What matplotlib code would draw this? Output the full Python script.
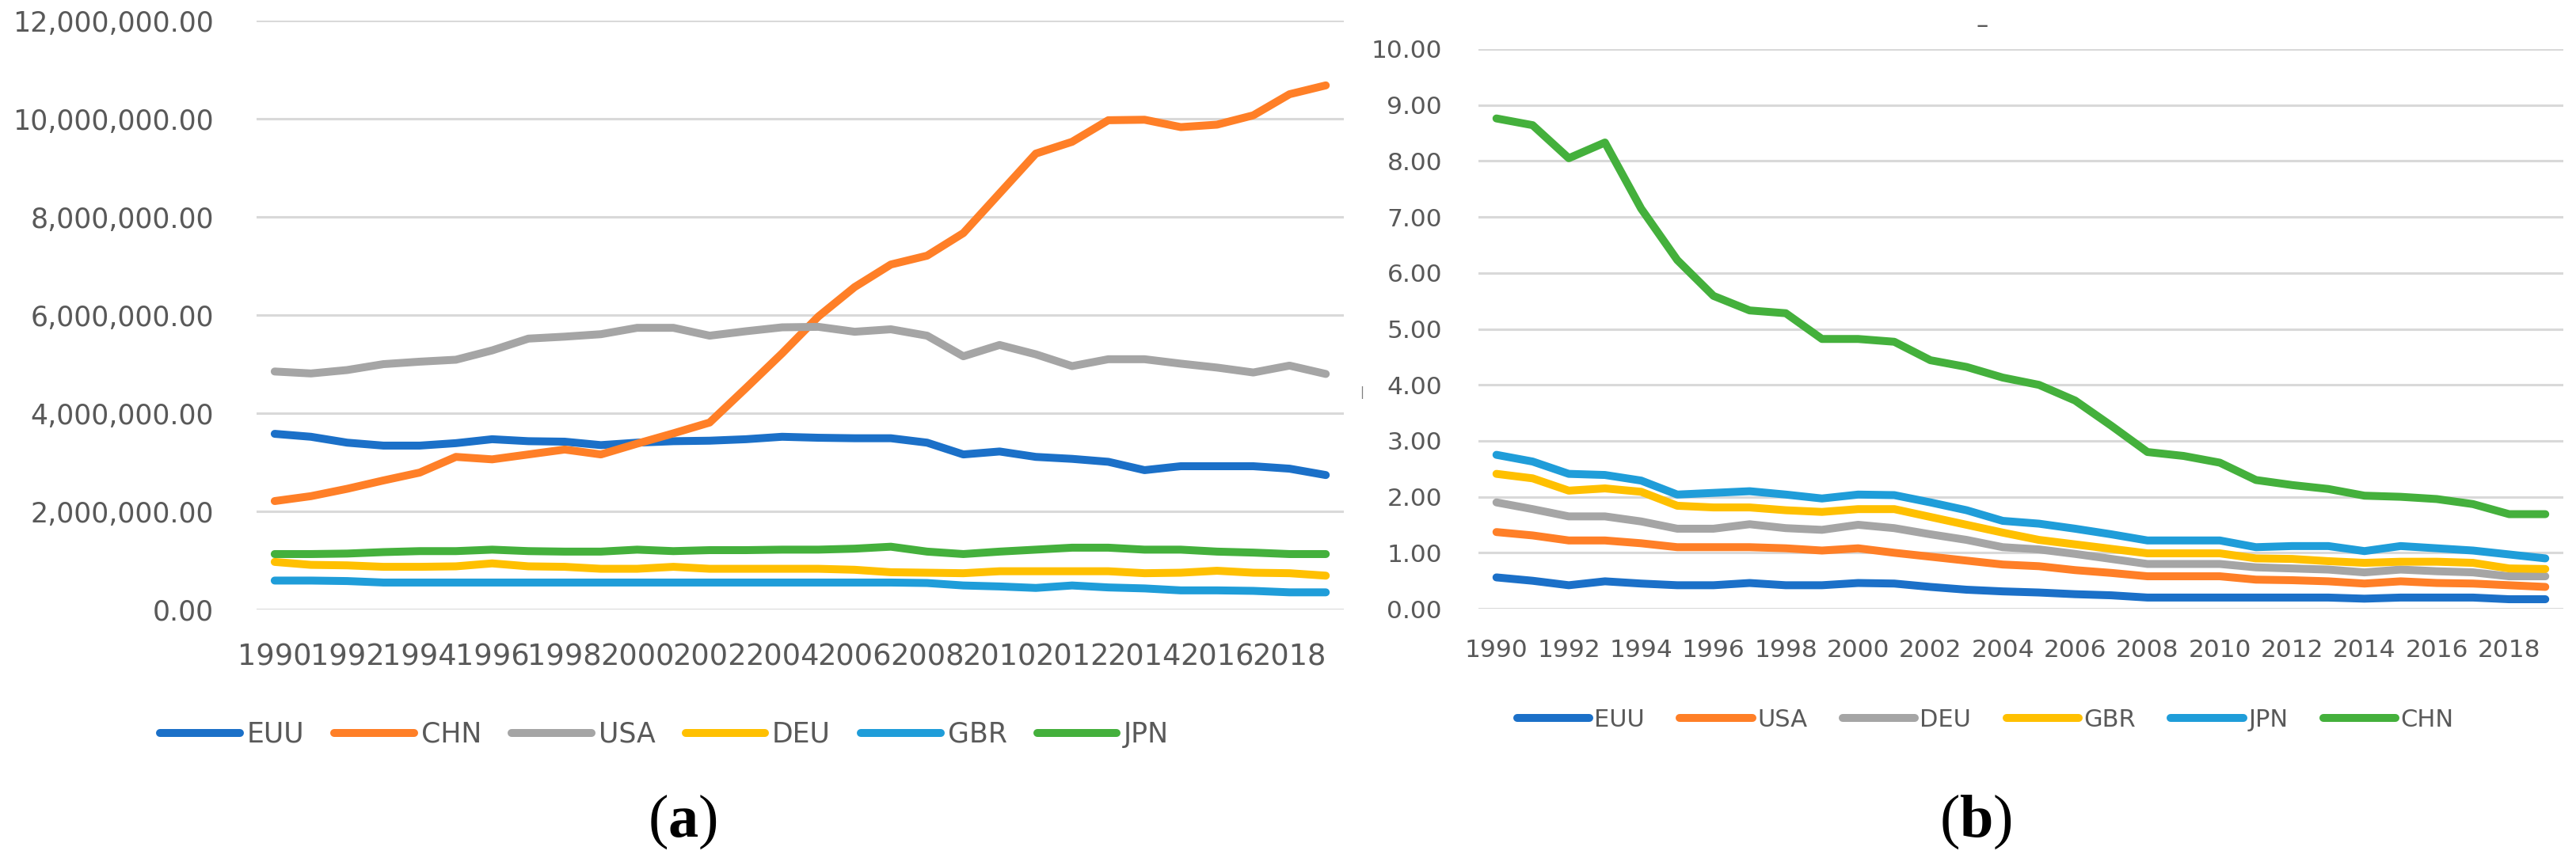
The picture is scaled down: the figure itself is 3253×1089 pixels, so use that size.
import matplotlib
matplotlib.use("Agg")
import matplotlib.pyplot as plt
from matplotlib.ticker import FuncFormatter

plt.rcParams["font.family"] = ["DejaVu Sans"]
plt.rcParams["mathtext.fontset"] = "custom"
plt.rcParams["mathtext.bf"] = "Liberation Serif:bold"
plt.rcParams["mathtext.rm"] = "Liberation Serif"

YEARS = list(range(1990, 2020))

# (a) CO2 emissions (kt), in millions
A_EUU = [3.58, 3.52, 3.40, 3.34, 3.34, 3.39, 3.47, 3.43, 3.42, 3.35,
         3.40, 3.43, 3.44, 3.47, 3.52, 3.50, 3.49, 3.49, 3.40, 3.16,
         3.22, 3.11, 3.07, 3.01, 2.84, 2.92, 2.92, 2.92, 2.87, 2.74]
A_CHN = [2.21, 2.31, 2.46, 2.63, 2.79, 3.11, 3.06, 3.16, 3.26, 3.16,
         3.38, 3.59, 3.81, 4.51, 5.22, 5.97, 6.57, 7.03, 7.21, 7.67,
         8.48, 9.29, 9.53, 9.97, 9.98, 9.83, 9.88, 10.07, 10.50, 10.68]
A_USA = [4.85, 4.81, 4.88, 5.00, 5.05, 5.09, 5.28, 5.52, 5.56, 5.61,
         5.74, 5.74, 5.58, 5.67, 5.75, 5.76, 5.66, 5.71, 5.58, 5.16,
         5.39, 5.20, 4.96, 5.10, 5.10, 5.01, 4.93, 4.83, 4.97, 4.80]
A_DEU = [0.97, 0.91, 0.90, 0.87, 0.87, 0.88, 0.94, 0.88, 0.87, 0.83,
         0.83, 0.87, 0.83, 0.83, 0.83, 0.83, 0.81, 0.76, 0.75, 0.74,
         0.78, 0.78, 0.78, 0.78, 0.74, 0.75, 0.79, 0.75, 0.74, 0.69]
A_GBR = [0.59, 0.59, 0.58, 0.55, 0.55, 0.55, 0.55, 0.55, 0.55, 0.55,
         0.55, 0.55, 0.55, 0.55, 0.55, 0.55, 0.55, 0.55, 0.54, 0.49,
         0.47, 0.44, 0.49, 0.45, 0.43, 0.39, 0.39, 0.38, 0.35, 0.35]
A_JPN = [1.13, 1.13, 1.14, 1.17, 1.19, 1.19, 1.22, 1.19, 1.18, 1.18,
         1.22, 1.19, 1.21, 1.21, 1.22, 1.22, 1.24, 1.28, 1.18, 1.13,
         1.18, 1.22, 1.26, 1.26, 1.22, 1.22, 1.18, 1.16, 1.13, 1.13]

# (b) CO2 intensity
B_EUU = [0.56, 0.50, 0.42, 0.49, 0.45, 0.42, 0.42, 0.46, 0.42, 0.42,
         0.46, 0.45, 0.39, 0.34, 0.31, 0.29, 0.26, 0.24, 0.20, 0.20,
         0.20, 0.20, 0.20, 0.20, 0.18, 0.20, 0.20, 0.20, 0.17, 0.17]
B_USA = [1.37, 1.31, 1.22, 1.22, 1.17, 1.10, 1.10, 1.10, 1.08, 1.04,
         1.08, 1.00, 0.93, 0.86, 0.79, 0.76, 0.69, 0.64, 0.58, 0.58,
         0.58, 0.52, 0.51, 0.49, 0.45, 0.49, 0.46, 0.45, 0.42, 0.39]
B_DEU = [1.90, 1.78, 1.65, 1.65, 1.56, 1.43, 1.43, 1.51, 1.44, 1.41,
         1.50, 1.44, 1.33, 1.23, 1.10, 1.06, 0.98, 0.89, 0.80, 0.80,
         0.80, 0.74, 0.72, 0.70, 0.65, 0.70, 0.67, 0.65, 0.58, 0.58]
B_GBR = [2.41, 2.33, 2.11, 2.15, 2.09, 1.84, 1.81, 1.81, 1.76, 1.73,
         1.78, 1.78, 1.64, 1.50, 1.36, 1.23, 1.15, 1.07, 0.99, 0.99,
         0.99, 0.90, 0.89, 0.85, 0.82, 0.84, 0.84, 0.82, 0.72, 0.71]
B_JPN = [2.75, 2.63, 2.41, 2.39, 2.29, 2.04, 2.07, 2.10, 2.04, 1.97,
         2.04, 2.03, 1.90, 1.76, 1.57, 1.52, 1.43, 1.33, 1.22, 1.22,
         1.22, 1.10, 1.12, 1.12, 1.03, 1.12, 1.08, 1.04, 0.97, 0.90]
B_CHN = [8.76, 8.64, 8.05, 8.33, 7.15, 6.23, 5.59, 5.33, 5.28, 4.82,
         4.82, 4.77, 4.44, 4.32, 4.13, 4.00, 3.72, 3.27, 2.80, 2.73,
         2.61, 2.30, 2.21, 2.14, 2.02, 2.00, 1.96, 1.87, 1.69, 1.69]

SERIES_A = [("EUU", [v * 1e6 for v in A_EUU], "#1B70C8"),
            ("CHN", [v * 1e6 for v in A_CHN], "#FF7F27"),
            ("USA", [v * 1e6 for v in A_USA], "#A5A5A5"),
            ("DEU", [v * 1e6 for v in A_DEU], "#FFC000"),
            ("GBR", [v * 1e6 for v in A_GBR], "#1F9DD9"),
            ("JPN", [v * 1e6 for v in A_JPN], "#44B03C")]
SERIES_B = [("EUU", B_EUU, "#1B70C8"),
            ("USA", B_USA, "#FF7F27"),
            ("DEU", B_DEU, "#A5A5A5"),
            ("GBR", B_GBR, "#FFC000"),
            ("JPN", B_JPN, "#1F9DD9"),
            ("CHN", B_CHN, "#44B03C")]

TXT = "#595959"
GRID = "#D9D9D9"

fig = plt.figure(figsize=(32.53, 10.89), dpi=100)
ax_a = fig.add_axes([0.0996, 0.2929, 0.4221, 0.6832])
ax_b = fig.add_axes([0.5739, 0.2938, 0.4212, 0.6493])


def style(ax, ymax, step, yfs, xfs, ypad, xpad):
    x = list(range(len(YEARS)))
    ax.set_xlim(-0.5, len(YEARS) - 0.5)
    ax.set_ylim(0, ymax)
    ax.set_yticks([i * step for i in range(int(round(ymax / step)) + 1)])
    ax.yaxis.set_major_formatter(FuncFormatter(lambda v, p: f"{v:,.2f}"))
    ax.set_xticks(x[::2])
    ax.set_xticklabels([str(y) for y in YEARS[::2]])
    ax.tick_params(axis="both", length=0, colors=TXT)
    ax.tick_params(axis="y", pad=ypad, labelsize=yfs)
    ax.tick_params(axis="x", pad=xpad, labelsize=xfs)
    ax.grid(axis="y", color=GRID, lw=2.2)
    ax.set_axisbelow(True)
    for s in ax.spines.values():
        s.set_visible(False)


x = list(range(len(YEARS)))
for name, vals, col in SERIES_A:
    ax_a.plot(x, vals, color=col, lw=7.2, solid_capstyle="round",
              solid_joinstyle="round", label=name)
for name, vals, col in SERIES_B:
    ax_b.plot(x, vals, color=col, lw=7.2, solid_capstyle="round",
              solid_joinstyle="round", label=name)

style(ax_a, 12e6, 2e6, 25, 26.5, 39, 30)
style(ax_b, 10, 1, 22.5, 22.5, 33, 27)

fig.legend(*ax_a.get_legend_handles_labels(), loc="center",
           bbox_to_anchor=(0.258, 0.148), ncol=6, frameon=False,
           fontsize=25, labelcolor=TXT, handlelength=2.9,
           handletextpad=0.25, columnspacing=1.1)
fig.legend(*ax_b.get_legend_handles_labels(), loc="center",
           bbox_to_anchor=(0.7707, 0.165), ncol=6, frameon=False,
           fontsize=22, labelcolor=TXT, handlelength=3.0,
           handletextpad=0.2, columnspacing=1.45)

fig.text(862 / 3253, 1 - 1038 / 1089, r"($\mathbf{a}$)", ha="center",
         va="center", fontsize=55, family="Liberation Serif")
fig.text(2495 / 3253, 1 - 1038 / 1089, r"($\mathbf{b}$)", ha="center",
         va="center", fontsize=55, family="Liberation Serif")
# stray marks visible in the source figure
fig.text(2503 / 3253, 1 - 33 / 1089, "\u2013", ha="center", va="center",
         fontsize=22, color=TXT)
fig.text(1720 / 3253, 1 - 496 / 1089, "|", ha="center", va="center",
         fontsize=11, color="#7f7f7f")

fig.savefig("out.png", dpi=100, facecolor="white")
